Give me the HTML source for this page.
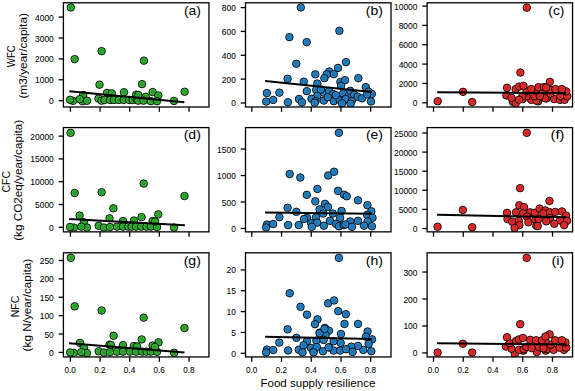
<!DOCTYPE html>
<html><head><meta charset="utf-8"><style>
html,body{margin:0;padding:0;background:#fff;}
body{width:575px;height:391px;overflow:hidden;}
svg{display:block;font-family:"Liberation Sans",sans-serif;fill:#000;}
svg text{fill:#000;} .tk{stroke:#000;stroke-width:0.06px;} .lb{stroke:#000;stroke-width:0.0px;}
</style></head><body>
<svg width="575" height="391" viewBox="0 0 575 391">
<rect width="575" height="391" fill="#fff"/>
<defs>
<radialGradient id="rg0"><stop offset="0" stop-color="#2ca02c"/><stop offset="0.5" stop-color="#2ca02c"/><stop offset="0.78" stop-color="#37c337"/><stop offset="1" stop-color="#37c337"/></radialGradient>
<radialGradient id="rg1"><stop offset="0" stop-color="#1f77b4"/><stop offset="0.5" stop-color="#1f77b4"/><stop offset="0.78" stop-color="#2a8fdc"/><stop offset="1" stop-color="#2a8fdc"/></radialGradient>
<radialGradient id="rg2"><stop offset="0" stop-color="#d62728"/><stop offset="0.5" stop-color="#d62728"/><stop offset="0.78" stop-color="#f5302f"/><stop offset="1" stop-color="#f5302f"/></radialGradient>
</defs>
<g>
<clipPath id="cpa"><rect x="63.4" y="2.8" width="145.55" height="104.20"/></clipPath>
<g clip-path="url(#cpa)" fill="url(#rg0)" stroke="#000" stroke-width="0.9">
<circle cx="70.80" cy="7.45" r="3.75"/>
<circle cx="74.65" cy="59.15" r="3.75"/>
<circle cx="101.60" cy="51.15" r="3.75"/>
<circle cx="143.90" cy="60.65" r="3.75"/>
<circle cx="99.50" cy="84.65" r="3.75"/>
<circle cx="142.00" cy="84.15" r="3.75"/>
<circle cx="184.60" cy="91.75" r="3.75"/>
<circle cx="73.00" cy="100.85" r="3.75"/>
<circle cx="70.00" cy="99.75" r="3.75"/>
<circle cx="83.20" cy="94.95" r="3.75"/>
<circle cx="82.50" cy="101.25" r="3.75"/>
<circle cx="87.00" cy="100.75" r="3.75"/>
<circle cx="79.70" cy="99.15" r="3.75"/>
<circle cx="98.50" cy="98.55" r="3.75"/>
<circle cx="101.60" cy="100.65" r="3.75"/>
<circle cx="107.00" cy="92.95" r="3.75"/>
<circle cx="111.80" cy="93.35" r="3.75"/>
<circle cx="124.00" cy="92.25" r="3.75"/>
<circle cx="136.20" cy="94.65" r="3.75"/>
<circle cx="104.50" cy="99.95" r="3.75"/>
<circle cx="110.10" cy="99.95" r="3.75"/>
<circle cx="113.90" cy="99.95" r="3.75"/>
<circle cx="118.80" cy="99.95" r="3.75"/>
<circle cx="123.70" cy="99.95" r="3.75"/>
<circle cx="129.20" cy="99.95" r="3.75"/>
<circle cx="132.70" cy="99.95" r="3.75"/>
<circle cx="136.90" cy="99.95" r="3.75"/>
<circle cx="138.30" cy="95.05" r="3.75"/>
<circle cx="145.70" cy="96.75" r="3.75"/>
<circle cx="152.70" cy="92.05" r="3.75"/>
<circle cx="158.30" cy="95.45" r="3.75"/>
<circle cx="138.30" cy="100.65" r="3.75"/>
<circle cx="143.50" cy="100.65" r="3.75"/>
<circle cx="150.90" cy="101.15" r="3.75"/>
<circle cx="157.00" cy="101.15" r="3.75"/>
<circle cx="174.00" cy="100.95" r="3.75"/>
</g>
<line x1="69.3" y1="91.25" x2="184.4" y2="102.25" stroke="#000" stroke-width="2.0" stroke-linecap="butt"/>
<rect x="63.4" y="2.8" width="145.55" height="104.20" fill="none" stroke="#000" stroke-width="1.3"/>
<line x1="58.60" y1="100.70" x2="63.4" y2="100.70" stroke="#000" stroke-width="1.3"/>
<text x="53.80" y="104.20" text-anchor="end" class="tk" font-size="8.6" textLength="4.71" lengthAdjust="spacingAndGlyphs">0</text>
<line x1="58.60" y1="79.80" x2="63.4" y2="79.80" stroke="#000" stroke-width="1.3"/>
<text x="53.80" y="83.30" text-anchor="end" class="tk" font-size="8.6" textLength="18.83" lengthAdjust="spacingAndGlyphs">1000</text>
<line x1="58.60" y1="58.90" x2="63.4" y2="58.90" stroke="#000" stroke-width="1.3"/>
<text x="53.80" y="62.40" text-anchor="end" class="tk" font-size="8.6" textLength="18.83" lengthAdjust="spacingAndGlyphs">2000</text>
<line x1="58.60" y1="38.00" x2="63.4" y2="38.00" stroke="#000" stroke-width="1.3"/>
<text x="53.80" y="41.50" text-anchor="end" class="tk" font-size="8.6" textLength="18.83" lengthAdjust="spacingAndGlyphs">3000</text>
<line x1="58.60" y1="17.10" x2="63.4" y2="17.10" stroke="#000" stroke-width="1.3"/>
<text x="53.80" y="20.60" text-anchor="end" class="tk" font-size="8.6" textLength="18.83" lengthAdjust="spacingAndGlyphs">4000</text>
<line x1="70.40" y1="107.0" x2="70.40" y2="111.80" stroke="#000" stroke-width="1.3"/>
<line x1="100.06" y1="107.0" x2="100.06" y2="111.80" stroke="#000" stroke-width="1.3"/>
<line x1="129.72" y1="107.0" x2="129.72" y2="111.80" stroke="#000" stroke-width="1.3"/>
<line x1="159.38" y1="107.0" x2="159.38" y2="111.80" stroke="#000" stroke-width="1.3"/>
<line x1="189.04" y1="107.0" x2="189.04" y2="111.80" stroke="#000" stroke-width="1.3"/>
<text x="200.90" y="14.50" text-anchor="end" font-size="12.6" textLength="16.96" lengthAdjust="spacingAndGlyphs">(a)</text>
</g>
<g>
<clipPath id="cpb"><rect x="245.5" y="2.8" width="145.50" height="104.20"/></clipPath>
<g clip-path="url(#cpb)" fill="url(#rg1)" stroke="#000" stroke-width="0.9">
<circle cx="300.80" cy="7.45" r="3.75"/>
<circle cx="289.40" cy="37.15" r="3.75"/>
<circle cx="306.70" cy="42.15" r="3.75"/>
<circle cx="339.40" cy="30.75" r="3.75"/>
<circle cx="296.30" cy="63.75" r="3.75"/>
<circle cx="346.00" cy="62.15" r="3.75"/>
<circle cx="338.00" cy="67.95" r="3.75"/>
<circle cx="329.20" cy="71.55" r="3.75"/>
<circle cx="333.80" cy="74.15" r="3.75"/>
<circle cx="326.70" cy="74.35" r="3.75"/>
<circle cx="315.30" cy="74.35" r="3.75"/>
<circle cx="324.40" cy="78.15" r="3.75"/>
<circle cx="287.60" cy="78.75" r="3.75"/>
<circle cx="303.80" cy="81.65" r="3.75"/>
<circle cx="317.30" cy="83.55" r="3.75"/>
<circle cx="340.40" cy="81.95" r="3.75"/>
<circle cx="345.00" cy="80.15" r="3.75"/>
<circle cx="358.30" cy="78.15" r="3.75"/>
<circle cx="341.00" cy="85.95" r="3.75"/>
<circle cx="365.80" cy="87.15" r="3.75"/>
<circle cx="266.90" cy="93.05" r="3.75"/>
<circle cx="279.40" cy="92.65" r="3.75"/>
<circle cx="266.20" cy="101.55" r="3.75"/>
<circle cx="273.10" cy="99.95" r="3.75"/>
<circle cx="287.90" cy="102.25" r="3.75"/>
<circle cx="299.00" cy="99.05" r="3.75"/>
<circle cx="302.00" cy="102.35" r="3.75"/>
<circle cx="306.80" cy="91.15" r="3.75"/>
<circle cx="316.20" cy="89.95" r="3.75"/>
<circle cx="323.20" cy="92.35" r="3.75"/>
<circle cx="329.10" cy="91.15" r="3.75"/>
<circle cx="333.20" cy="94.05" r="3.75"/>
<circle cx="317.30" cy="95.85" r="3.75"/>
<circle cx="311.50" cy="98.75" r="3.75"/>
<circle cx="315.60" cy="101.15" r="3.75"/>
<circle cx="323.80" cy="100.55" r="3.75"/>
<circle cx="333.80" cy="101.15" r="3.75"/>
<circle cx="339.70" cy="99.85" r="3.75"/>
<circle cx="344.40" cy="95.25" r="3.75"/>
<circle cx="346.10" cy="99.35" r="3.75"/>
<circle cx="343.20" cy="93.45" r="3.75"/>
<circle cx="335.80" cy="95.15" r="3.75"/>
<circle cx="349.10" cy="95.15" r="3.75"/>
<circle cx="350.30" cy="90.85" r="3.75"/>
<circle cx="354.20" cy="94.75" r="3.75"/>
<circle cx="357.70" cy="96.75" r="3.75"/>
<circle cx="362.00" cy="98.35" r="3.75"/>
<circle cx="345.60" cy="99.05" r="3.75"/>
<circle cx="351.80" cy="101.05" r="3.75"/>
<circle cx="342.00" cy="103.35" r="3.75"/>
<circle cx="350.60" cy="103.75" r="3.75"/>
<circle cx="368.60" cy="91.65" r="3.75"/>
<circle cx="371.80" cy="93.95" r="3.75"/>
<circle cx="367.10" cy="94.35" r="3.75"/>
<circle cx="371.00" cy="101.45" r="3.75"/>
<circle cx="320.90" cy="89.55" r="3.75"/>
<circle cx="327.80" cy="97.25" r="3.75"/>
<circle cx="314.60" cy="102.65" r="3.75"/>
</g>
<line x1="265.2" y1="80.94999999999999" x2="371.9" y2="91.94999999999999" stroke="#000" stroke-width="2.0" stroke-linecap="butt"/>
<rect x="245.5" y="2.8" width="145.50" height="104.20" fill="none" stroke="#000" stroke-width="1.3"/>
<line x1="240.70" y1="102.95" x2="245.5" y2="102.95" stroke="#000" stroke-width="1.3"/>
<text x="235.90" y="106.45" text-anchor="end" class="tk" font-size="8.6" textLength="4.71" lengthAdjust="spacingAndGlyphs">0</text>
<line x1="240.70" y1="79.11" x2="245.5" y2="79.11" stroke="#000" stroke-width="1.3"/>
<text x="235.90" y="82.61" text-anchor="end" class="tk" font-size="8.6" textLength="14.12" lengthAdjust="spacingAndGlyphs">200</text>
<line x1="240.70" y1="55.27" x2="245.5" y2="55.27" stroke="#000" stroke-width="1.3"/>
<text x="235.90" y="58.77" text-anchor="end" class="tk" font-size="8.6" textLength="14.12" lengthAdjust="spacingAndGlyphs">400</text>
<line x1="240.70" y1="31.43" x2="245.5" y2="31.43" stroke="#000" stroke-width="1.3"/>
<text x="235.90" y="34.93" text-anchor="end" class="tk" font-size="8.6" textLength="14.12" lengthAdjust="spacingAndGlyphs">600</text>
<line x1="240.70" y1="7.59" x2="245.5" y2="7.59" stroke="#000" stroke-width="1.3"/>
<text x="235.90" y="11.09" text-anchor="end" class="tk" font-size="8.6" textLength="14.12" lengthAdjust="spacingAndGlyphs">800</text>
<line x1="251.80" y1="107.0" x2="251.80" y2="111.80" stroke="#000" stroke-width="1.3"/>
<line x1="281.52" y1="107.0" x2="281.52" y2="111.80" stroke="#000" stroke-width="1.3"/>
<line x1="311.24" y1="107.0" x2="311.24" y2="111.80" stroke="#000" stroke-width="1.3"/>
<line x1="340.96" y1="107.0" x2="340.96" y2="111.80" stroke="#000" stroke-width="1.3"/>
<line x1="370.68" y1="107.0" x2="370.68" y2="111.80" stroke="#000" stroke-width="1.3"/>
<text x="382.95" y="14.50" text-anchor="end" font-size="12.6" textLength="17.21" lengthAdjust="spacingAndGlyphs">(b)</text>
</g>
<g>
<clipPath id="cpc"><rect x="427.1" y="2.8" width="145.45" height="104.20"/></clipPath>
<g clip-path="url(#cpc)" fill="url(#rg2)" stroke="#000" stroke-width="0.9">
<circle cx="526.80" cy="7.65" r="3.75"/>
<circle cx="437.70" cy="101.25" r="3.75"/>
<circle cx="463.00" cy="91.85" r="3.75"/>
<circle cx="472.20" cy="102.05" r="3.75"/>
<circle cx="520.40" cy="72.55" r="3.75"/>
<circle cx="549.90" cy="81.85" r="3.75"/>
<circle cx="506.40" cy="95.45" r="3.75"/>
<circle cx="512.80" cy="101.85" r="3.75"/>
<circle cx="515.70" cy="103.45" r="3.75"/>
<circle cx="522.80" cy="99.05" r="3.75"/>
<circle cx="531.20" cy="99.85" r="3.75"/>
<circle cx="538.10" cy="101.35" r="3.75"/>
<circle cx="546.50" cy="98.35" r="3.75"/>
<circle cx="554.20" cy="99.05" r="3.75"/>
<circle cx="560.00" cy="99.85" r="3.75"/>
<circle cx="564.60" cy="99.85" r="3.75"/>
<circle cx="536.40" cy="100.65" r="3.75"/>
<circle cx="526.60" cy="96.35" r="3.75"/>
<circle cx="534.30" cy="96.05" r="3.75"/>
<circle cx="540.00" cy="96.35" r="3.75"/>
<circle cx="545.00" cy="98.35" r="3.75"/>
<circle cx="539.90" cy="96.05" r="3.75"/>
<circle cx="550.40" cy="93.65" r="3.75"/>
<circle cx="560.30" cy="96.05" r="3.75"/>
<circle cx="567.30" cy="96.35" r="3.75"/>
<circle cx="522.40" cy="96.15" r="3.75"/>
<circle cx="519.20" cy="99.65" r="3.75"/>
<circle cx="511.50" cy="97.75" r="3.75"/>
<circle cx="526.60" cy="91.05" r="3.75"/>
<circle cx="535.40" cy="90.65" r="3.75"/>
<circle cx="542.70" cy="89.85" r="3.75"/>
<circle cx="550.00" cy="89.85" r="3.75"/>
<circle cx="566.10" cy="91.35" r="3.75"/>
<circle cx="507.00" cy="87.85" r="3.75"/>
<circle cx="515.70" cy="89.15" r="3.75"/>
<circle cx="519.20" cy="86.55" r="3.75"/>
<circle cx="523.50" cy="85.85" r="3.75"/>
<circle cx="531.20" cy="89.05" r="3.75"/>
<circle cx="538.50" cy="87.15" r="3.75"/>
<circle cx="543.90" cy="87.15" r="3.75"/>
<circle cx="546.20" cy="87.55" r="3.75"/>
<circle cx="555.40" cy="89.05" r="3.75"/>
<circle cx="561.90" cy="89.05" r="3.75"/>
</g>
<line x1="437.2" y1="92.14999999999999" x2="566.1" y2="93.14999999999999" stroke="#000" stroke-width="2.0" stroke-linecap="butt"/>
<rect x="427.1" y="2.8" width="145.45" height="104.20" fill="none" stroke="#000" stroke-width="1.3"/>
<line x1="422.30" y1="102.80" x2="427.1" y2="102.80" stroke="#000" stroke-width="1.3"/>
<text x="417.50" y="106.30" text-anchor="end" class="tk" font-size="8.6" textLength="4.71" lengthAdjust="spacingAndGlyphs">0</text>
<line x1="422.30" y1="83.45" x2="427.1" y2="83.45" stroke="#000" stroke-width="1.3"/>
<text x="417.50" y="86.95" text-anchor="end" class="tk" font-size="8.6" textLength="18.83" lengthAdjust="spacingAndGlyphs">2000</text>
<line x1="422.30" y1="64.10" x2="427.1" y2="64.10" stroke="#000" stroke-width="1.3"/>
<text x="417.50" y="67.60" text-anchor="end" class="tk" font-size="8.6" textLength="18.83" lengthAdjust="spacingAndGlyphs">4000</text>
<line x1="422.30" y1="44.75" x2="427.1" y2="44.75" stroke="#000" stroke-width="1.3"/>
<text x="417.50" y="48.25" text-anchor="end" class="tk" font-size="8.6" textLength="18.83" lengthAdjust="spacingAndGlyphs">6000</text>
<line x1="422.30" y1="25.40" x2="427.1" y2="25.40" stroke="#000" stroke-width="1.3"/>
<text x="417.50" y="28.90" text-anchor="end" class="tk" font-size="8.6" textLength="18.83" lengthAdjust="spacingAndGlyphs">8000</text>
<line x1="422.30" y1="6.05" x2="427.1" y2="6.05" stroke="#000" stroke-width="1.3"/>
<text x="417.50" y="9.55" text-anchor="end" class="tk" font-size="8.6" textLength="23.53" lengthAdjust="spacingAndGlyphs">10000</text>
<line x1="433.50" y1="107.0" x2="433.50" y2="111.80" stroke="#000" stroke-width="1.3"/>
<line x1="463.25" y1="107.0" x2="463.25" y2="111.80" stroke="#000" stroke-width="1.3"/>
<line x1="493.00" y1="107.0" x2="493.00" y2="111.80" stroke="#000" stroke-width="1.3"/>
<line x1="522.75" y1="107.0" x2="522.75" y2="111.80" stroke="#000" stroke-width="1.3"/>
<line x1="552.50" y1="107.0" x2="552.50" y2="111.80" stroke="#000" stroke-width="1.3"/>
<text x="564.50" y="14.50" text-anchor="end" font-size="12.6" textLength="16.23" lengthAdjust="spacingAndGlyphs">(c)</text>
</g>
<g>
<clipPath id="cpd"><rect x="63.4" y="127.6" width="145.55" height="104.25"/></clipPath>
<g clip-path="url(#cpd)" fill="url(#rg0)" stroke="#000" stroke-width="0.9">
<circle cx="70.60" cy="132.85" r="3.75"/>
<circle cx="74.70" cy="192.95" r="3.75"/>
<circle cx="101.60" cy="192.25" r="3.75"/>
<circle cx="143.70" cy="183.55" r="3.75"/>
<circle cx="184.50" cy="196.05" r="3.75"/>
<circle cx="113.40" cy="208.35" r="3.75"/>
<circle cx="79.60" cy="215.55" r="3.75"/>
<circle cx="141.50" cy="217.15" r="3.75"/>
<circle cx="158.30" cy="214.35" r="3.75"/>
<circle cx="73.90" cy="227.55" r="3.75"/>
<circle cx="70.00" cy="227.05" r="3.75"/>
<circle cx="83.90" cy="222.35" r="3.75"/>
<circle cx="86.90" cy="227.55" r="3.75"/>
<circle cx="81.30" cy="226.65" r="3.75"/>
<circle cx="98.70" cy="225.75" r="3.75"/>
<circle cx="103.90" cy="227.55" r="3.75"/>
<circle cx="109.50" cy="218.35" r="3.75"/>
<circle cx="110.00" cy="227.05" r="3.75"/>
<circle cx="123.00" cy="221.05" r="3.75"/>
<circle cx="133.90" cy="220.55" r="3.75"/>
<circle cx="152.60" cy="221.05" r="3.75"/>
<circle cx="117.00" cy="226.65" r="3.75"/>
<circle cx="123.00" cy="226.65" r="3.75"/>
<circle cx="128.30" cy="226.65" r="3.75"/>
<circle cx="131.70" cy="226.65" r="3.75"/>
<circle cx="136.10" cy="226.65" r="3.75"/>
<circle cx="141.30" cy="226.65" r="3.75"/>
<circle cx="146.50" cy="226.65" r="3.75"/>
<circle cx="150.90" cy="226.65" r="3.75"/>
<circle cx="157.00" cy="227.05" r="3.75"/>
<circle cx="174.00" cy="227.55" r="3.75"/>
<circle cx="155.00" cy="221.55" r="3.75"/>
</g>
<line x1="69.1" y1="219.04999999999998" x2="184.9" y2="225.35" stroke="#000" stroke-width="2.0" stroke-linecap="butt"/>
<rect x="63.4" y="127.6" width="145.55" height="104.25" fill="none" stroke="#000" stroke-width="1.3"/>
<line x1="58.60" y1="227.30" x2="63.4" y2="227.30" stroke="#000" stroke-width="1.3"/>
<text x="53.80" y="230.80" text-anchor="end" class="tk" font-size="8.6" textLength="4.71" lengthAdjust="spacingAndGlyphs">0</text>
<line x1="58.60" y1="204.50" x2="63.4" y2="204.50" stroke="#000" stroke-width="1.3"/>
<text x="53.80" y="208.00" text-anchor="end" class="tk" font-size="8.6" textLength="18.83" lengthAdjust="spacingAndGlyphs">5000</text>
<line x1="58.60" y1="181.70" x2="63.4" y2="181.70" stroke="#000" stroke-width="1.3"/>
<text x="53.80" y="185.20" text-anchor="end" class="tk" font-size="8.6" textLength="23.53" lengthAdjust="spacingAndGlyphs">10000</text>
<line x1="58.60" y1="158.90" x2="63.4" y2="158.90" stroke="#000" stroke-width="1.3"/>
<text x="53.80" y="162.40" text-anchor="end" class="tk" font-size="8.6" textLength="23.53" lengthAdjust="spacingAndGlyphs">15000</text>
<line x1="58.60" y1="136.10" x2="63.4" y2="136.10" stroke="#000" stroke-width="1.3"/>
<text x="53.80" y="139.60" text-anchor="end" class="tk" font-size="8.6" textLength="23.53" lengthAdjust="spacingAndGlyphs">20000</text>
<line x1="70.40" y1="231.85" x2="70.40" y2="236.65" stroke="#000" stroke-width="1.3"/>
<line x1="100.06" y1="231.85" x2="100.06" y2="236.65" stroke="#000" stroke-width="1.3"/>
<line x1="129.72" y1="231.85" x2="129.72" y2="236.65" stroke="#000" stroke-width="1.3"/>
<line x1="159.38" y1="231.85" x2="159.38" y2="236.65" stroke="#000" stroke-width="1.3"/>
<line x1="189.04" y1="231.85" x2="189.04" y2="236.65" stroke="#000" stroke-width="1.3"/>
<text x="200.90" y="139.30" text-anchor="end" font-size="12.6" textLength="17.21" lengthAdjust="spacingAndGlyphs">(d)</text>
</g>
<g>
<clipPath id="cpe"><rect x="245.5" y="127.6" width="145.50" height="104.25"/></clipPath>
<g clip-path="url(#cpe)" fill="url(#rg1)" stroke="#000" stroke-width="0.9">
<circle cx="338.90" cy="132.85" r="3.75"/>
<circle cx="289.70" cy="174.05" r="3.75"/>
<circle cx="300.30" cy="177.55" r="3.75"/>
<circle cx="328.20" cy="175.45" r="3.75"/>
<circle cx="334.10" cy="171.75" r="3.75"/>
<circle cx="317.40" cy="188.95" r="3.75"/>
<circle cx="306.80" cy="194.85" r="3.75"/>
<circle cx="338.00" cy="190.85" r="3.75"/>
<circle cx="343.90" cy="194.65" r="3.75"/>
<circle cx="346.70" cy="196.25" r="3.75"/>
<circle cx="315.30" cy="201.35" r="3.75"/>
<circle cx="358.00" cy="200.35" r="3.75"/>
<circle cx="325.00" cy="203.85" r="3.75"/>
<circle cx="367.40" cy="205.15" r="3.75"/>
<circle cx="287.60" cy="207.75" r="3.75"/>
<circle cx="296.40" cy="211.85" r="3.75"/>
<circle cx="279.40" cy="217.15" r="3.75"/>
<circle cx="267.00" cy="224.55" r="3.75"/>
<circle cx="266.10" cy="227.45" r="3.75"/>
<circle cx="273.20" cy="224.05" r="3.75"/>
<circle cx="288.10" cy="225.05" r="3.75"/>
<circle cx="298.80" cy="225.05" r="3.75"/>
<circle cx="328.00" cy="206.95" r="3.75"/>
<circle cx="319.60" cy="209.35" r="3.75"/>
<circle cx="323.20" cy="213.55" r="3.75"/>
<circle cx="332.90" cy="213.55" r="3.75"/>
<circle cx="341.50" cy="210.95" r="3.75"/>
<circle cx="307.00" cy="217.85" r="3.75"/>
<circle cx="304.00" cy="219.05" r="3.75"/>
<circle cx="316.00" cy="217.25" r="3.75"/>
<circle cx="329.90" cy="220.85" r="3.75"/>
<circle cx="340.10" cy="217.85" r="3.75"/>
<circle cx="311.20" cy="223.25" r="3.75"/>
<circle cx="317.20" cy="222.65" r="3.75"/>
<circle cx="323.80" cy="225.65" r="3.75"/>
<circle cx="311.80" cy="226.85" r="3.75"/>
<circle cx="335.90" cy="223.85" r="3.75"/>
<circle cx="338.90" cy="226.25" r="3.75"/>
<circle cx="343.70" cy="225.05" r="3.75"/>
<circle cx="371.30" cy="211.25" r="3.75"/>
<circle cx="367.10" cy="214.85" r="3.75"/>
<circle cx="372.50" cy="217.85" r="3.75"/>
<circle cx="367.70" cy="221.45" r="3.75"/>
<circle cx="371.90" cy="226.25" r="3.75"/>
<circle cx="364.10" cy="225.65" r="3.75"/>
<circle cx="358.00" cy="220.85" r="3.75"/>
<circle cx="350.20" cy="221.45" r="3.75"/>
<circle cx="345.40" cy="224.45" r="3.75"/>
<circle cx="352.00" cy="226.85" r="3.75"/>
</g>
<line x1="265.1" y1="212.54999999999998" x2="371.9" y2="213.65" stroke="#000" stroke-width="2.0" stroke-linecap="butt"/>
<rect x="245.5" y="127.6" width="145.50" height="104.25" fill="none" stroke="#000" stroke-width="1.3"/>
<line x1="240.70" y1="228.50" x2="245.5" y2="228.50" stroke="#000" stroke-width="1.3"/>
<text x="235.90" y="232.00" text-anchor="end" class="tk" font-size="8.6" textLength="4.71" lengthAdjust="spacingAndGlyphs">0</text>
<line x1="240.70" y1="202.03" x2="245.5" y2="202.03" stroke="#000" stroke-width="1.3"/>
<text x="235.90" y="205.53" text-anchor="end" class="tk" font-size="8.6" textLength="14.12" lengthAdjust="spacingAndGlyphs">500</text>
<line x1="240.70" y1="175.57" x2="245.5" y2="175.57" stroke="#000" stroke-width="1.3"/>
<text x="235.90" y="179.07" text-anchor="end" class="tk" font-size="8.6" textLength="18.83" lengthAdjust="spacingAndGlyphs">1000</text>
<line x1="240.70" y1="149.11" x2="245.5" y2="149.11" stroke="#000" stroke-width="1.3"/>
<text x="235.90" y="152.61" text-anchor="end" class="tk" font-size="8.6" textLength="18.83" lengthAdjust="spacingAndGlyphs">1500</text>
<line x1="251.80" y1="231.85" x2="251.80" y2="236.65" stroke="#000" stroke-width="1.3"/>
<line x1="281.52" y1="231.85" x2="281.52" y2="236.65" stroke="#000" stroke-width="1.3"/>
<line x1="311.24" y1="231.85" x2="311.24" y2="236.65" stroke="#000" stroke-width="1.3"/>
<line x1="340.96" y1="231.85" x2="340.96" y2="236.65" stroke="#000" stroke-width="1.3"/>
<line x1="370.68" y1="231.85" x2="370.68" y2="236.65" stroke="#000" stroke-width="1.3"/>
<text x="382.95" y="139.30" text-anchor="end" font-size="12.6" textLength="16.98" lengthAdjust="spacingAndGlyphs">(e)</text>
</g>
<g>
<clipPath id="cpf"><rect x="427.1" y="127.6" width="145.45" height="104.25"/></clipPath>
<g clip-path="url(#cpf)" fill="url(#rg2)" stroke="#000" stroke-width="0.9">
<circle cx="526.70" cy="132.85" r="3.75"/>
<circle cx="520.10" cy="188.15" r="3.75"/>
<circle cx="549.50" cy="200.95" r="3.75"/>
<circle cx="462.90" cy="209.95" r="3.75"/>
<circle cx="437.60" cy="226.75" r="3.75"/>
<circle cx="472.20" cy="227.25" r="3.75"/>
<circle cx="519.30" cy="205.25" r="3.75"/>
<circle cx="524.00" cy="207.15" r="3.75"/>
<circle cx="507.00" cy="212.85" r="3.75"/>
<circle cx="516.00" cy="212.35" r="3.75"/>
<circle cx="523.10" cy="213.35" r="3.75"/>
<circle cx="530.20" cy="212.35" r="3.75"/>
<circle cx="534.90" cy="212.85" r="3.75"/>
<circle cx="507.50" cy="219.05" r="3.75"/>
<circle cx="512.20" cy="221.85" r="3.75"/>
<circle cx="518.80" cy="220.85" r="3.75"/>
<circle cx="519.30" cy="225.15" r="3.75"/>
<circle cx="514.60" cy="227.95" r="3.75"/>
<circle cx="526.90" cy="216.65" r="3.75"/>
<circle cx="528.30" cy="222.35" r="3.75"/>
<circle cx="535.40" cy="219.95" r="3.75"/>
<circle cx="536.30" cy="225.65" r="3.75"/>
<circle cx="539.60" cy="208.55" r="3.75"/>
<circle cx="545.30" cy="210.45" r="3.75"/>
<circle cx="543.40" cy="213.35" r="3.75"/>
<circle cx="550.00" cy="212.35" r="3.75"/>
<circle cx="555.20" cy="211.95" r="3.75"/>
<circle cx="561.90" cy="211.45" r="3.75"/>
<circle cx="566.10" cy="215.65" r="3.75"/>
<circle cx="538.70" cy="219.05" r="3.75"/>
<circle cx="550.00" cy="218.05" r="3.75"/>
<circle cx="560.00" cy="220.45" r="3.75"/>
<circle cx="546.20" cy="221.35" r="3.75"/>
<circle cx="554.30" cy="223.75" r="3.75"/>
<circle cx="567.10" cy="220.85" r="3.75"/>
<circle cx="537.70" cy="226.05" r="3.75"/>
<circle cx="564.20" cy="225.15" r="3.75"/>
</g>
<line x1="437.1" y1="214.75" x2="566.1" y2="217.35" stroke="#000" stroke-width="2.0" stroke-linecap="butt"/>
<rect x="427.1" y="127.6" width="145.45" height="104.25" fill="none" stroke="#000" stroke-width="1.3"/>
<line x1="422.30" y1="228.50" x2="427.1" y2="228.50" stroke="#000" stroke-width="1.3"/>
<text x="417.50" y="232.00" text-anchor="end" class="tk" font-size="8.6" textLength="4.71" lengthAdjust="spacingAndGlyphs">0</text>
<line x1="422.30" y1="209.40" x2="427.1" y2="209.40" stroke="#000" stroke-width="1.3"/>
<text x="417.50" y="212.90" text-anchor="end" class="tk" font-size="8.6" textLength="18.83" lengthAdjust="spacingAndGlyphs">5000</text>
<line x1="422.30" y1="190.30" x2="427.1" y2="190.30" stroke="#000" stroke-width="1.3"/>
<text x="417.50" y="193.80" text-anchor="end" class="tk" font-size="8.6" textLength="23.53" lengthAdjust="spacingAndGlyphs">10000</text>
<line x1="422.30" y1="171.20" x2="427.1" y2="171.20" stroke="#000" stroke-width="1.3"/>
<text x="417.50" y="174.70" text-anchor="end" class="tk" font-size="8.6" textLength="23.53" lengthAdjust="spacingAndGlyphs">15000</text>
<line x1="422.30" y1="152.10" x2="427.1" y2="152.10" stroke="#000" stroke-width="1.3"/>
<text x="417.50" y="155.60" text-anchor="end" class="tk" font-size="8.6" textLength="23.53" lengthAdjust="spacingAndGlyphs">20000</text>
<line x1="422.30" y1="133.00" x2="427.1" y2="133.00" stroke="#000" stroke-width="1.3"/>
<text x="417.50" y="136.50" text-anchor="end" class="tk" font-size="8.6" textLength="23.53" lengthAdjust="spacingAndGlyphs">25000</text>
<line x1="433.50" y1="231.85" x2="433.50" y2="236.65" stroke="#000" stroke-width="1.3"/>
<line x1="463.25" y1="231.85" x2="463.25" y2="236.65" stroke="#000" stroke-width="1.3"/>
<line x1="493.00" y1="231.85" x2="493.00" y2="236.65" stroke="#000" stroke-width="1.3"/>
<line x1="522.75" y1="231.85" x2="522.75" y2="236.65" stroke="#000" stroke-width="1.3"/>
<line x1="552.50" y1="231.85" x2="552.50" y2="236.65" stroke="#000" stroke-width="1.3"/>
<text x="564.50" y="139.30" text-anchor="end" font-size="12.6" textLength="13.93" lengthAdjust="spacingAndGlyphs">(f)</text>
</g>
<g>
<clipPath id="cpg"><rect x="63.4" y="252.8" width="145.55" height="104.15"/></clipPath>
<g clip-path="url(#cpg)" fill="url(#rg0)" stroke="#000" stroke-width="0.9">
<circle cx="70.80" cy="257.85" r="3.75"/>
<circle cx="74.70" cy="306.35" r="3.75"/>
<circle cx="101.60" cy="310.45" r="3.75"/>
<circle cx="143.70" cy="317.65" r="3.75"/>
<circle cx="184.50" cy="328.05" r="3.75"/>
<circle cx="113.60" cy="335.75" r="3.75"/>
<circle cx="141.70" cy="339.45" r="3.75"/>
<circle cx="158.50" cy="342.35" r="3.75"/>
<circle cx="80.00" cy="342.95" r="3.75"/>
<circle cx="73.90" cy="352.95" r="3.75"/>
<circle cx="70.20" cy="352.45" r="3.75"/>
<circle cx="83.90" cy="347.75" r="3.75"/>
<circle cx="86.90" cy="353.05" r="3.75"/>
<circle cx="81.30" cy="352.15" r="3.75"/>
<circle cx="98.70" cy="351.25" r="3.75"/>
<circle cx="103.90" cy="352.55" r="3.75"/>
<circle cx="109.50" cy="344.65" r="3.75"/>
<circle cx="110.00" cy="352.05" r="3.75"/>
<circle cx="123.00" cy="345.15" r="3.75"/>
<circle cx="133.90" cy="346.05" r="3.75"/>
<circle cx="137.00" cy="346.45" r="3.75"/>
<circle cx="152.60" cy="345.55" r="3.75"/>
<circle cx="110.90" cy="345.15" r="3.75"/>
<circle cx="117.00" cy="351.65" r="3.75"/>
<circle cx="123.00" cy="351.65" r="3.75"/>
<circle cx="130.00" cy="351.65" r="3.75"/>
<circle cx="136.10" cy="351.65" r="3.75"/>
<circle cx="142.20" cy="351.65" r="3.75"/>
<circle cx="146.50" cy="351.65" r="3.75"/>
<circle cx="150.90" cy="351.65" r="3.75"/>
<circle cx="157.00" cy="351.85" r="3.75"/>
<circle cx="174.10" cy="352.75" r="3.75"/>
<circle cx="155.00" cy="347.05" r="3.75"/>
</g>
<line x1="69.1" y1="343.35" x2="184.5" y2="352.45000000000005" stroke="#000" stroke-width="2.0" stroke-linecap="butt"/>
<rect x="63.4" y="252.8" width="145.55" height="104.15" fill="none" stroke="#000" stroke-width="1.3"/>
<line x1="58.60" y1="352.40" x2="63.4" y2="352.40" stroke="#000" stroke-width="1.3"/>
<text x="53.80" y="355.90" text-anchor="end" class="tk" font-size="8.6" textLength="4.71" lengthAdjust="spacingAndGlyphs">0</text>
<line x1="58.60" y1="334.02" x2="63.4" y2="334.02" stroke="#000" stroke-width="1.3"/>
<text x="53.80" y="337.52" text-anchor="end" class="tk" font-size="8.6" textLength="9.41" lengthAdjust="spacingAndGlyphs">50</text>
<line x1="58.60" y1="315.64" x2="63.4" y2="315.64" stroke="#000" stroke-width="1.3"/>
<text x="53.80" y="319.14" text-anchor="end" class="tk" font-size="8.6" textLength="14.12" lengthAdjust="spacingAndGlyphs">100</text>
<line x1="58.60" y1="297.26" x2="63.4" y2="297.26" stroke="#000" stroke-width="1.3"/>
<text x="53.80" y="300.76" text-anchor="end" class="tk" font-size="8.6" textLength="14.12" lengthAdjust="spacingAndGlyphs">150</text>
<line x1="58.60" y1="278.88" x2="63.4" y2="278.88" stroke="#000" stroke-width="1.3"/>
<text x="53.80" y="282.38" text-anchor="end" class="tk" font-size="8.6" textLength="14.12" lengthAdjust="spacingAndGlyphs">200</text>
<line x1="58.60" y1="260.50" x2="63.4" y2="260.50" stroke="#000" stroke-width="1.3"/>
<text x="53.80" y="264.00" text-anchor="end" class="tk" font-size="8.6" textLength="14.12" lengthAdjust="spacingAndGlyphs">250</text>
<line x1="70.40" y1="356.95" x2="70.40" y2="361.75" stroke="#000" stroke-width="1.3"/>
<text x="70.20" y="372.7" text-anchor="middle" class="tk" font-size="8.6" textLength="11.35" lengthAdjust="spacingAndGlyphs">0.0</text>
<line x1="100.06" y1="356.95" x2="100.06" y2="361.75" stroke="#000" stroke-width="1.3"/>
<text x="99.86" y="372.7" text-anchor="middle" class="tk" font-size="8.6" textLength="11.35" lengthAdjust="spacingAndGlyphs">0.2</text>
<line x1="129.72" y1="356.95" x2="129.72" y2="361.75" stroke="#000" stroke-width="1.3"/>
<text x="129.52" y="372.7" text-anchor="middle" class="tk" font-size="8.6" textLength="11.35" lengthAdjust="spacingAndGlyphs">0.4</text>
<line x1="159.38" y1="356.95" x2="159.38" y2="361.75" stroke="#000" stroke-width="1.3"/>
<text x="159.18" y="372.7" text-anchor="middle" class="tk" font-size="8.6" textLength="11.35" lengthAdjust="spacingAndGlyphs">0.6</text>
<line x1="189.04" y1="356.95" x2="189.04" y2="361.75" stroke="#000" stroke-width="1.3"/>
<text x="188.84" y="372.7" text-anchor="middle" class="tk" font-size="8.6" textLength="11.35" lengthAdjust="spacingAndGlyphs">0.8</text>
<text x="200.90" y="264.50" text-anchor="end" font-size="12.6" textLength="17.21" lengthAdjust="spacingAndGlyphs">(g)</text>
</g>
<g>
<clipPath id="cph"><rect x="245.5" y="252.8" width="145.50" height="104.15"/></clipPath>
<g clip-path="url(#cph)" fill="url(#rg1)" stroke="#000" stroke-width="0.9">
<circle cx="338.90" cy="257.85" r="3.75"/>
<circle cx="289.70" cy="293.25" r="3.75"/>
<circle cx="300.50" cy="306.85" r="3.75"/>
<circle cx="328.10" cy="303.35" r="3.75"/>
<circle cx="334.10" cy="300.45" r="3.75"/>
<circle cx="307.00" cy="314.65" r="3.75"/>
<circle cx="338.20" cy="311.15" r="3.75"/>
<circle cx="345.80" cy="314.15" r="3.75"/>
<circle cx="317.50" cy="319.35" r="3.75"/>
<circle cx="315.00" cy="324.15" r="3.75"/>
<circle cx="344.50" cy="323.95" r="3.75"/>
<circle cx="358.00" cy="323.95" r="3.75"/>
<circle cx="287.60" cy="329.35" r="3.75"/>
<circle cx="324.90" cy="327.95" r="3.75"/>
<circle cx="367.60" cy="331.55" r="3.75"/>
<circle cx="296.40" cy="337.85" r="3.75"/>
<circle cx="279.30" cy="342.55" r="3.75"/>
<circle cx="267.00" cy="349.55" r="3.75"/>
<circle cx="266.10" cy="352.45" r="3.75"/>
<circle cx="273.20" cy="350.05" r="3.75"/>
<circle cx="288.10" cy="350.45" r="3.75"/>
<circle cx="298.80" cy="349.75" r="3.75"/>
<circle cx="328.90" cy="330.65" r="3.75"/>
<circle cx="319.60" cy="332.65" r="3.75"/>
<circle cx="341.00" cy="333.95" r="3.75"/>
<circle cx="325.60" cy="335.25" r="3.75"/>
<circle cx="307.00" cy="341.25" r="3.75"/>
<circle cx="316.30" cy="340.55" r="3.75"/>
<circle cx="323.60" cy="339.95" r="3.75"/>
<circle cx="333.60" cy="341.25" r="3.75"/>
<circle cx="303.60" cy="345.25" r="3.75"/>
<circle cx="340.70" cy="342.95" r="3.75"/>
<circle cx="311.00" cy="347.95" r="3.75"/>
<circle cx="328.90" cy="347.25" r="3.75"/>
<circle cx="322.90" cy="351.25" r="3.75"/>
<circle cx="313.60" cy="351.85" r="3.75"/>
<circle cx="333.60" cy="350.55" r="3.75"/>
<circle cx="340.20" cy="350.55" r="3.75"/>
<circle cx="366.00" cy="336.65" r="3.75"/>
<circle cx="372.00" cy="339.35" r="3.75"/>
<circle cx="368.60" cy="343.95" r="3.75"/>
<circle cx="371.30" cy="351.25" r="3.75"/>
<circle cx="363.30" cy="349.95" r="3.75"/>
<circle cx="358.00" cy="345.95" r="3.75"/>
<circle cx="351.30" cy="346.65" r="3.75"/>
<circle cx="346.00" cy="349.25" r="3.75"/>
<circle cx="352.60" cy="351.95" r="3.75"/>
<circle cx="316.80" cy="347.05" r="3.75"/>
<circle cx="328.60" cy="347.45" r="3.75"/>
<circle cx="302.50" cy="352.35" r="3.75"/>
<circle cx="319.60" cy="333.15" r="3.75"/>
<circle cx="324.50" cy="328.85" r="3.75"/>
<circle cx="313.50" cy="352.35" r="3.75"/>
</g>
<line x1="265.1" y1="336.85" x2="372.0" y2="338.95000000000005" stroke="#000" stroke-width="2.0" stroke-linecap="butt"/>
<rect x="245.5" y="252.8" width="145.50" height="104.15" fill="none" stroke="#000" stroke-width="1.3"/>
<line x1="240.70" y1="353.30" x2="245.5" y2="353.30" stroke="#000" stroke-width="1.3"/>
<text x="235.90" y="356.80" text-anchor="end" class="tk" font-size="8.6" textLength="4.71" lengthAdjust="spacingAndGlyphs">0</text>
<line x1="240.70" y1="332.45" x2="245.5" y2="332.45" stroke="#000" stroke-width="1.3"/>
<text x="235.90" y="335.95" text-anchor="end" class="tk" font-size="8.6" textLength="4.71" lengthAdjust="spacingAndGlyphs">5</text>
<line x1="240.70" y1="311.60" x2="245.5" y2="311.60" stroke="#000" stroke-width="1.3"/>
<text x="235.90" y="315.10" text-anchor="end" class="tk" font-size="8.6" textLength="9.41" lengthAdjust="spacingAndGlyphs">10</text>
<line x1="240.70" y1="290.75" x2="245.5" y2="290.75" stroke="#000" stroke-width="1.3"/>
<text x="235.90" y="294.25" text-anchor="end" class="tk" font-size="8.6" textLength="9.41" lengthAdjust="spacingAndGlyphs">15</text>
<line x1="240.70" y1="269.90" x2="245.5" y2="269.90" stroke="#000" stroke-width="1.3"/>
<text x="235.90" y="273.40" text-anchor="end" class="tk" font-size="8.6" textLength="9.41" lengthAdjust="spacingAndGlyphs">20</text>
<line x1="251.80" y1="356.95" x2="251.80" y2="361.75" stroke="#000" stroke-width="1.3"/>
<text x="251.60" y="372.7" text-anchor="middle" class="tk" font-size="8.6" textLength="11.35" lengthAdjust="spacingAndGlyphs">0.0</text>
<line x1="281.52" y1="356.95" x2="281.52" y2="361.75" stroke="#000" stroke-width="1.3"/>
<text x="281.32" y="372.7" text-anchor="middle" class="tk" font-size="8.6" textLength="11.35" lengthAdjust="spacingAndGlyphs">0.2</text>
<line x1="311.24" y1="356.95" x2="311.24" y2="361.75" stroke="#000" stroke-width="1.3"/>
<text x="311.04" y="372.7" text-anchor="middle" class="tk" font-size="8.6" textLength="11.35" lengthAdjust="spacingAndGlyphs">0.4</text>
<line x1="340.96" y1="356.95" x2="340.96" y2="361.75" stroke="#000" stroke-width="1.3"/>
<text x="340.76" y="372.7" text-anchor="middle" class="tk" font-size="8.6" textLength="11.35" lengthAdjust="spacingAndGlyphs">0.6</text>
<line x1="370.68" y1="356.95" x2="370.68" y2="361.75" stroke="#000" stroke-width="1.3"/>
<text x="370.48" y="372.7" text-anchor="middle" class="tk" font-size="8.6" textLength="11.35" lengthAdjust="spacingAndGlyphs">0.8</text>
<text x="382.95" y="264.50" text-anchor="end" font-size="12.6" textLength="17.20" lengthAdjust="spacingAndGlyphs">(h)</text>
</g>
<g>
<clipPath id="cpi"><rect x="427.1" y="252.8" width="145.45" height="104.15"/></clipPath>
<g clip-path="url(#cpi)" fill="url(#rg2)" stroke="#000" stroke-width="0.9">
<circle cx="526.70" cy="257.85" r="3.75"/>
<circle cx="520.20" cy="324.15" r="3.75"/>
<circle cx="549.60" cy="334.35" r="3.75"/>
<circle cx="462.90" cy="343.75" r="3.75"/>
<circle cx="437.60" cy="352.55" r="3.75"/>
<circle cx="472.20" cy="352.55" r="3.75"/>
<circle cx="514.80" cy="353.95" r="3.75"/>
<circle cx="536.80" cy="352.05" r="3.75"/>
<circle cx="523.50" cy="350.65" r="3.75"/>
<circle cx="545.70" cy="350.65" r="3.75"/>
<circle cx="547.00" cy="349.15" r="3.75"/>
<circle cx="553.60" cy="349.85" r="3.75"/>
<circle cx="564.00" cy="349.85" r="3.75"/>
<circle cx="505.90" cy="346.55" r="3.75"/>
<circle cx="511.50" cy="348.75" r="3.75"/>
<circle cx="518.90" cy="349.85" r="3.75"/>
<circle cx="523.70" cy="349.15" r="3.75"/>
<circle cx="526.50" cy="346.85" r="3.75"/>
<circle cx="531.60" cy="348.05" r="3.75"/>
<circle cx="539.10" cy="347.25" r="3.75"/>
<circle cx="543.50" cy="348.35" r="3.75"/>
<circle cx="559.60" cy="347.65" r="3.75"/>
<circle cx="566.30" cy="347.65" r="3.75"/>
<circle cx="509.60" cy="343.15" r="3.75"/>
<circle cx="550.70" cy="344.65" r="3.75"/>
<circle cx="565.50" cy="342.45" r="3.75"/>
<circle cx="545.50" cy="340.95" r="3.75"/>
<circle cx="516.00" cy="340.95" r="3.75"/>
<circle cx="518.90" cy="339.45" r="3.75"/>
<circle cx="523.00" cy="337.95" r="3.75"/>
<circle cx="530.20" cy="339.85" r="3.75"/>
<circle cx="536.10" cy="340.25" r="3.75"/>
<circle cx="542.00" cy="340.25" r="3.75"/>
<circle cx="545.40" cy="336.55" r="3.75"/>
<circle cx="555.10" cy="340.25" r="3.75"/>
<circle cx="561.80" cy="340.25" r="3.75"/>
<circle cx="507.00" cy="337.25" r="3.75"/>
</g>
<line x1="437.1" y1="343.25" x2="566.6" y2="344.45000000000005" stroke="#000" stroke-width="2.0" stroke-linecap="butt"/>
<rect x="427.1" y="252.8" width="145.45" height="104.15" fill="none" stroke="#000" stroke-width="1.3"/>
<line x1="422.30" y1="352.90" x2="427.1" y2="352.90" stroke="#000" stroke-width="1.3"/>
<text x="417.50" y="356.40" text-anchor="end" class="tk" font-size="8.6" textLength="4.71" lengthAdjust="spacingAndGlyphs">0</text>
<line x1="422.30" y1="325.95" x2="427.1" y2="325.95" stroke="#000" stroke-width="1.3"/>
<text x="417.50" y="329.45" text-anchor="end" class="tk" font-size="8.6" textLength="14.12" lengthAdjust="spacingAndGlyphs">100</text>
<line x1="422.30" y1="299.00" x2="427.1" y2="299.00" stroke="#000" stroke-width="1.3"/>
<text x="417.50" y="302.50" text-anchor="end" class="tk" font-size="8.6" textLength="14.12" lengthAdjust="spacingAndGlyphs">200</text>
<line x1="422.30" y1="272.05" x2="427.1" y2="272.05" stroke="#000" stroke-width="1.3"/>
<text x="417.50" y="275.55" text-anchor="end" class="tk" font-size="8.6" textLength="14.12" lengthAdjust="spacingAndGlyphs">300</text>
<line x1="433.50" y1="356.95" x2="433.50" y2="361.75" stroke="#000" stroke-width="1.3"/>
<text x="433.30" y="372.7" text-anchor="middle" class="tk" font-size="8.6" textLength="11.35" lengthAdjust="spacingAndGlyphs">0.0</text>
<line x1="463.25" y1="356.95" x2="463.25" y2="361.75" stroke="#000" stroke-width="1.3"/>
<text x="463.05" y="372.7" text-anchor="middle" class="tk" font-size="8.6" textLength="11.35" lengthAdjust="spacingAndGlyphs">0.2</text>
<line x1="493.00" y1="356.95" x2="493.00" y2="361.75" stroke="#000" stroke-width="1.3"/>
<text x="492.80" y="372.7" text-anchor="middle" class="tk" font-size="8.6" textLength="11.35" lengthAdjust="spacingAndGlyphs">0.4</text>
<line x1="522.75" y1="356.95" x2="522.75" y2="361.75" stroke="#000" stroke-width="1.3"/>
<text x="522.55" y="372.7" text-anchor="middle" class="tk" font-size="8.6" textLength="11.35" lengthAdjust="spacingAndGlyphs">0.6</text>
<line x1="552.50" y1="356.95" x2="552.50" y2="361.75" stroke="#000" stroke-width="1.3"/>
<text x="552.30" y="372.7" text-anchor="middle" class="tk" font-size="8.6" textLength="11.35" lengthAdjust="spacingAndGlyphs">0.8</text>
<text x="564.50" y="264.50" text-anchor="end" font-size="12.6" textLength="13.07" lengthAdjust="spacingAndGlyphs">(i)</text>
</g>
<text transform="translate(14.7,56.2) rotate(-90)" text-anchor="middle" class="lb" font-size="10.8" textLength="22.0" lengthAdjust="spacingAndGlyphs">WFC</text>
<text transform="translate(27.0,55.8) rotate(-90)" text-anchor="middle" class="lb" font-size="10.8" textLength="85.4" lengthAdjust="spacingAndGlyphs">(m3/year/capita)</text>
<text transform="translate(9.6,181.7) rotate(-90)" text-anchor="middle" class="lb" font-size="10.8" textLength="21.6" lengthAdjust="spacingAndGlyphs">CFC</text>
<text transform="translate(21.9,180.3) rotate(-90)" text-anchor="middle" class="lb" font-size="10.8" textLength="121.0" lengthAdjust="spacingAndGlyphs">(kg CO2eq/year/capita)</text>
<text transform="translate(19.4,306.5) rotate(-90)" text-anchor="middle" class="lb" font-size="10.8" textLength="21.6" lengthAdjust="spacingAndGlyphs">NFC</text>
<text transform="translate(31.4,305.1) rotate(-90)" text-anchor="middle" class="lb" font-size="10.8" textLength="92.6" lengthAdjust="spacingAndGlyphs">(kg N/year/capita)</text>
<text x="317.9" y="386.9" text-anchor="middle" class="lb" font-size="10.8" textLength="115.0" lengthAdjust="spacingAndGlyphs">Food supply resilience</text>
</svg>
</body></html>
